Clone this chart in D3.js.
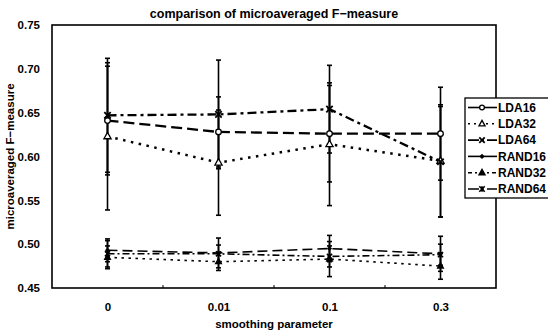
<!DOCTYPE html>
<html>
<head>
<meta charset="utf-8">
<script src="https://cdn.jsdelivr.net/npm/d3@7"></script>
<style>
  body { margin: 0; background: #fff; }
  text { font-family: "Liberation Sans", Arial, sans-serif; font-weight: bold; fill: #000; }
</style>
</head>
<body>
<svg id="chart"></svg>
<script>
// data
const categories = ["0", "0.01", "0.1", "0.3"];
const seriesNames = ["LDA16", "LDA32", "LDA64", "RAND16", "RAND32", "RAND64"];
const yTicks = [0.45, 0.50, 0.55, 0.60, 0.65, 0.70, 0.75];

const lda16 = [0.641, 0.628, 0.626, 0.626];
const lda16Err = [0.062, 0.040, 0.055, 0.053];
const lda32 = [0.623, 0.593, 0.614, 0.595];
const lda32Err = [0.084, 0.060, 0.070, 0.064];
const lda64 = [0.647, 0.648, 0.654, 0.594];
const lda64Err = [0.065, 0.062, 0.050, 0.063];
const rand16 = [0.493, 0.490, 0.495, 0.489];
const rand16Err = [0.013, 0.017, 0.015, 0.020];
const rand32 = [0.485, 0.480, 0.483, 0.475];
const rand32Err = [0.013, 0.010, 0.020, 0.015];
const rand64 = [0.489, 0.489, 0.486, 0.488];
const rand64Err = [0.015, 0.010, 0.012, 0.012];

const values = [lda16, lda32, lda64, rand16, rand32, rand64];
const errors = [lda16Err, lda32Err, lda64Err, rand16Err, rand32Err, rand64Err];

// styles
const plotDash = ["11,5", "2.5,5.5", "9,4,3,4", "10,5", "2.5,4.5", "7,3,2,3"];
const plotWidth = [2.3, 2.5, 2.3, 1.6, 1.6, 1.6];
const legendDash = [null, "2,4", "11,3,2,3", null, "4,3,2,3", "11,3,2,3"];
const markers = ["circle", "triangle", "cross", "diamond", "triangleFill", "star"];

const W = 548, H = 330;
const margin = {left: 52, right: 52, top: 25, bottom: 42};

const svg = d3.select("#chart").attr("width", W).attr("height", H);

const x = d3.scalePoint().domain(categories).range([margin.left, W - margin.right]).padding(0.5);
const y = d3.scaleLinear().domain([0.45, 0.75]).range([H - margin.bottom, margin.top]);

// frame
svg.append("rect")
    .attr("x", margin.left).attr("y", margin.top)
    .attr("width", W - margin.left - margin.right)
    .attr("height", H - margin.top - margin.bottom)
    .attr("fill", "none").attr("stroke", "#000").attr("stroke-width", 1.6);

// y axis labels
const yAxis = d3.axisLeft(y).tickValues(yTicks).tickSize(0).tickPadding(12).tickFormat(d3.format(".2f"));
svg.append("g")
    .attr("transform", `translate(${margin.left},0)`)
    .call(yAxis)
    .call(g => g.select(".domain").remove())
    .selectAll("text").style("font-size", "11.5px");

// x axis labels
const xAxis = d3.axisBottom(x).tickSize(0).tickPadding(15);
svg.append("g")
    .attr("transform", `translate(0,${H - margin.bottom})`)
    .call(xAxis)
    .call(g => g.select(".domain").remove())
    .selectAll("text").style("font-size", "11.5px");

// small inner ticks between categories
const step = x.step();
svg.append("g").selectAll("line")
    .data(categories.slice(1))
    .join("line")
    .attr("x1", d => x(d) - step / 2).attr("x2", d => x(d) - step / 2)
    .attr("y1", H - margin.bottom).attr("y2", H - margin.bottom - 3)
    .attr("stroke", "#000").attr("stroke-width", 1);

// titles
svg.append("text")
    .attr("x", (margin.left + W - margin.right) / 2).attr("y", 18)
    .attr("text-anchor", "middle").style("font-size", "12.5px")
    .text("comparison of microaveraged F\u2212measure");

svg.append("text")
    .attr("x", (margin.left + W - margin.right) / 2).attr("y", 328)
    .attr("text-anchor", "middle").style("font-size", "11.5px")
    .text("smoothing parameter");

svg.append("text")
    .attr("transform", `translate(14,${(margin.top + H - margin.bottom) / 2}) rotate(-90)`)
    .attr("text-anchor", "middle").style("font-size", "11.5px")
    .text("microaveraged F\u2212measure");

// marker drawing
function drawMarker(g, type, cx, cy, s) {
    s = s || 1;
    if (type === "circle") {
        g.append("circle").attr("cx", cx).attr("cy", cy).attr("r", 2.8 * s)
            .attr("fill", "#fff").attr("stroke", "#000").attr("stroke-width", 1.3);
    } else if (type === "triangle" || type === "triangleFill") {
        const r = 4 * s;
        g.append("path")
            .attr("d", `M${cx},${cy - r}L${cx + r * 0.9},${cy + r * 0.6}L${cx - r * 0.9},${cy + r * 0.6}Z`)
            .attr("fill", type === "triangle" ? "#fff" : "#000")
            .attr("stroke", "#000").attr("stroke-width", 1.3);
    } else if (type === "cross") {
        const r = 3.2 * s;
        g.append("path")
            .attr("d", `M${cx - r},${cy - r}L${cx + r},${cy + r}M${cx - r},${cy + r}L${cx + r},${cy - r}`)
            .attr("stroke", "#000").attr("stroke-width", 1.8);
    } else if (type === "diamond") {
        const r = 3.2 * s;
        g.append("path")
            .attr("d", `M${cx},${cy - r}L${cx + r},${cy}L${cx},${cy + r}L${cx - r},${cy}Z`)
            .attr("fill", "#000");
    } else if (type === "star") {
        const r = 3.2 * s;
        g.append("path")
            .attr("d", `M${cx - r},${cy - r}L${cx + r},${cy + r}M${cx - r},${cy + r}L${cx + r},${cy - r}M${cx},${cy - r}L${cx},${cy + r}`)
            .attr("stroke", "#000").attr("stroke-width", 1.6);
    }
}

// error bars
const bars = svg.append("g");
values.forEach((vals, si) => {
    vals.forEach((v, i) => {
        const cx = x(categories[i]);
        const e = errors[si][i];
        bars.append("line")
            .attr("x1", cx).attr("x2", cx)
            .attr("y1", y(v + e)).attr("y2", y(v - e))
            .attr("stroke", "#000").attr("stroke-width", 1.6);
        [v + e, v - e].forEach(t => {
            bars.append("line")
                .attr("x1", cx - 2.5).attr("x2", cx + 2.5)
                .attr("y1", y(t)).attr("y2", y(t))
                .attr("stroke", "#000").attr("stroke-width", 1.6);
        });
    });
});

// lines
const line = d3.line().x((d, i) => x(categories[i])).y(d => y(d));
const lines = svg.append("g");
values.forEach((vals, si) => {
    lines.append("path")
        .attr("d", line(vals))
        .attr("fill", "none").attr("stroke", "#000")
        .attr("stroke-width", plotWidth[si])
        .attr("stroke-dasharray", plotDash[si]);
});

// markers
const marks = svg.append("g");
values.forEach((vals, si) => {
    vals.forEach((v, i) => drawMarker(marks, markers[si], x(categories[i]), y(v), si >= 3 ? 0.8 : 1));
});

// legend
const leg = svg.append("g").attr("transform", "translate(465,98)");
leg.append("rect")
    .attr("x", 0).attr("y", 0).attr("width", 100).attr("height", 100)
    .attr("fill", "#fff").attr("stroke", "#000").attr("stroke-width", 1.3);
seriesNames.forEach((name, i) => {
    const ly = 9.5 + i * 16.3;
    leg.append("line")
        .attr("x1", 3).attr("x2", 32).attr("y1", ly).attr("y2", ly)
        .attr("stroke", "#000").attr("stroke-width", 1.6)
        .attr("stroke-dasharray", legendDash[i]);
    drawMarker(leg, markers[i], 17, ly, 0.85);
    leg.append("text")
        .attr("x", 33).attr("y", ly + 4.3)
        .style("font-size", "12px")
        .text(name);
});
</script>
</body>
</html>
